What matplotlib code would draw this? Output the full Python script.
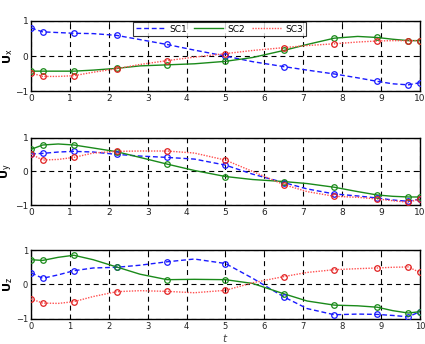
import matplotlib
matplotlib.use("Agg")
import matplotlib.pyplot as plt
from matplotlib.lines import Line2D

# time samples for curves and marker positions
t_line = [0, 0.3, 0.7, 1.1, 1.6, 2.2, 2.8, 3.5, 4.2, 5.0, 5.7, 6.5, 7.1, 7.8, 8.4, 8.9, 9.3, 9.7, 10]
t_mark = [0, 0.3, 1.1, 2.2, 3.5, 5.0, 6.5, 7.8, 8.9, 9.7, 10]

# Ux
ux_sc1 = [0.80, 0.69, 0.67, 0.65, 0.64, 0.59, 0.47, 0.33, 0.17, 0.00, -0.16, -0.30, -0.40, -0.51, -0.62, -0.72, -0.79, -0.82, -0.76]
ux_sc2 = [-0.43, -0.43, -0.43, -0.43, -0.40, -0.35, -0.28, -0.25, -0.22, -0.15, -0.04, 0.16, 0.33, 0.51, 0.56, 0.53, 0.48, 0.44, 0.44]
ux_sc3 = [-0.48, -0.58, -0.58, -0.56, -0.46, -0.36, -0.24, -0.13, -0.03, 0.07, 0.16, 0.24, 0.30, 0.35, 0.40, 0.43, 0.44, 0.44, 0.44]
# Uy
uy_sc1 = [0.52, 0.54, 0.58, 0.60, 0.58, 0.51, 0.46, 0.42, 0.37, 0.19, -0.08, -0.33, -0.52, -0.67, -0.73, -0.79, -0.85, -0.89, -0.82]
uy_sc2 = [0.66, 0.79, 0.82, 0.79, 0.70, 0.59, 0.42, 0.22, 0.03, -0.15, -0.24, -0.30, -0.36, -0.47, -0.60, -0.70, -0.74, -0.76, -0.76]
uy_sc3 = [0.52, 0.34, 0.36, 0.42, 0.55, 0.60, 0.61, 0.61, 0.55, 0.34, 0.00, -0.39, -0.60, -0.74, -0.77, -0.82, -0.87, -0.92, -0.82]
# Uz
uz_sc1 = [0.34, 0.18, 0.28, 0.40, 0.48, 0.50, 0.56, 0.66, 0.74, 0.61, 0.18, -0.36, -0.70, -0.88, -0.86, -0.87, -0.90, -0.94, -0.79]
uz_sc2 = [0.72, 0.70, 0.79, 0.85, 0.72, 0.51, 0.30, 0.14, 0.15, 0.14, 0.03, -0.27, -0.48, -0.60, -0.62, -0.66, -0.76, -0.83, -0.79]
uz_sc3 = [-0.42, -0.54, -0.55, -0.50, -0.35, -0.21, -0.18, -0.20, -0.24, -0.17, 0.05, 0.23, 0.35, 0.43, 0.46, 0.48, 0.50, 0.51, 0.35]

series_names = ["SC1", "SC2", "SC3"]
ylabels = [r"$\mathbf{U}_{\mathrm{x}}$", r"$\mathbf{U}_{\mathrm{y}}$", r"$\mathbf{U}_{\mathrm{z}}$"]
xticks = list(range(0, 11))
yticks = [-1, 0, 1]

panels = [(ux_sc1, ux_sc2, ux_sc3), (uy_sc1, uy_sc2, uy_sc3), (uz_sc1, uz_sc2, uz_sc3)]

styles = [
    dict(color="#1a1aff", ls=(0, (3.5, 2)), mec="#1a1aff"),
    dict(color="#1a8a1a", ls="-", mec="#1a8a1a"),
    dict(color="#ff5050", ls=(0, (1, 1)), mec="#e02020"),
]

fig = plt.figure(figsize=(4.25, 3.44), dpi=100)
rects = [
    (0.073, 0.735, 0.915, 0.204),
    (0.073, 0.404, 0.915, 0.195),
    (0.073, 0.073, 0.915, 0.200),
]

mark_idx = [t_line.index(t) for t in t_mark]

for p, (rect, data) in enumerate(zip(rects, panels)):
    ax = fig.add_axes(rect)
    for i, vals in enumerate(data):
        st = styles[i]
        ax.plot(t_line, vals, color=st["color"], ls=st["ls"], lw=1.0, label=series_names[i], zorder=3)
        ax.plot([t_line[k] for k in mark_idx], [vals[k] for k in mark_idx], ls="none",
                marker="o", ms=4, mfc="none", mec=st["mec"], mew=0.9, zorder=4)
    ax.set_xlim(0, 10)
    ax.set_ylim(-1, 1)
    ax.set_xticks(xticks)
    ax.set_yticks(yticks)
    ax.grid(True, color="black", ls=(0, (4.5, 3.5)), lw=0.8, zorder=1)
    ax.tick_params(direction="in", top=True, right=True, length=3, width=0.6,
                   labelsize=6.5 if p < 2 else 6, pad=2, labelcolor="#222222")
    for s in ax.spines.values():
        s.set_linewidth(1.0)
    ax.set_ylabel(ylabels[p], fontsize=8)
    ax.yaxis.set_label_coords(-0.041, 0.5)
    if p == 0:
        handles = [Line2D([], [], color=styles[i]["color"], ls=styles[i]["ls"], lw=1.0) for i in range(3)]
        leg = ax.legend(handles, series_names, loc="upper center", bbox_to_anchor=(0.485, 1.0), ncol=3,
                        fontsize=6.5, frameon=True, fancybox=False, edgecolor="black",
                        handlelength=3.2, handletextpad=0.5, columnspacing=0.8,
                        borderpad=0.25, borderaxespad=0.15)
        leg.get_frame().set_linewidth(0.8)
    if p == 2:
        ax.set_xlabel(r"$t$", fontsize=7.5, labelpad=1, color="#444444")

fig.savefig("out.png", dpi=100)
